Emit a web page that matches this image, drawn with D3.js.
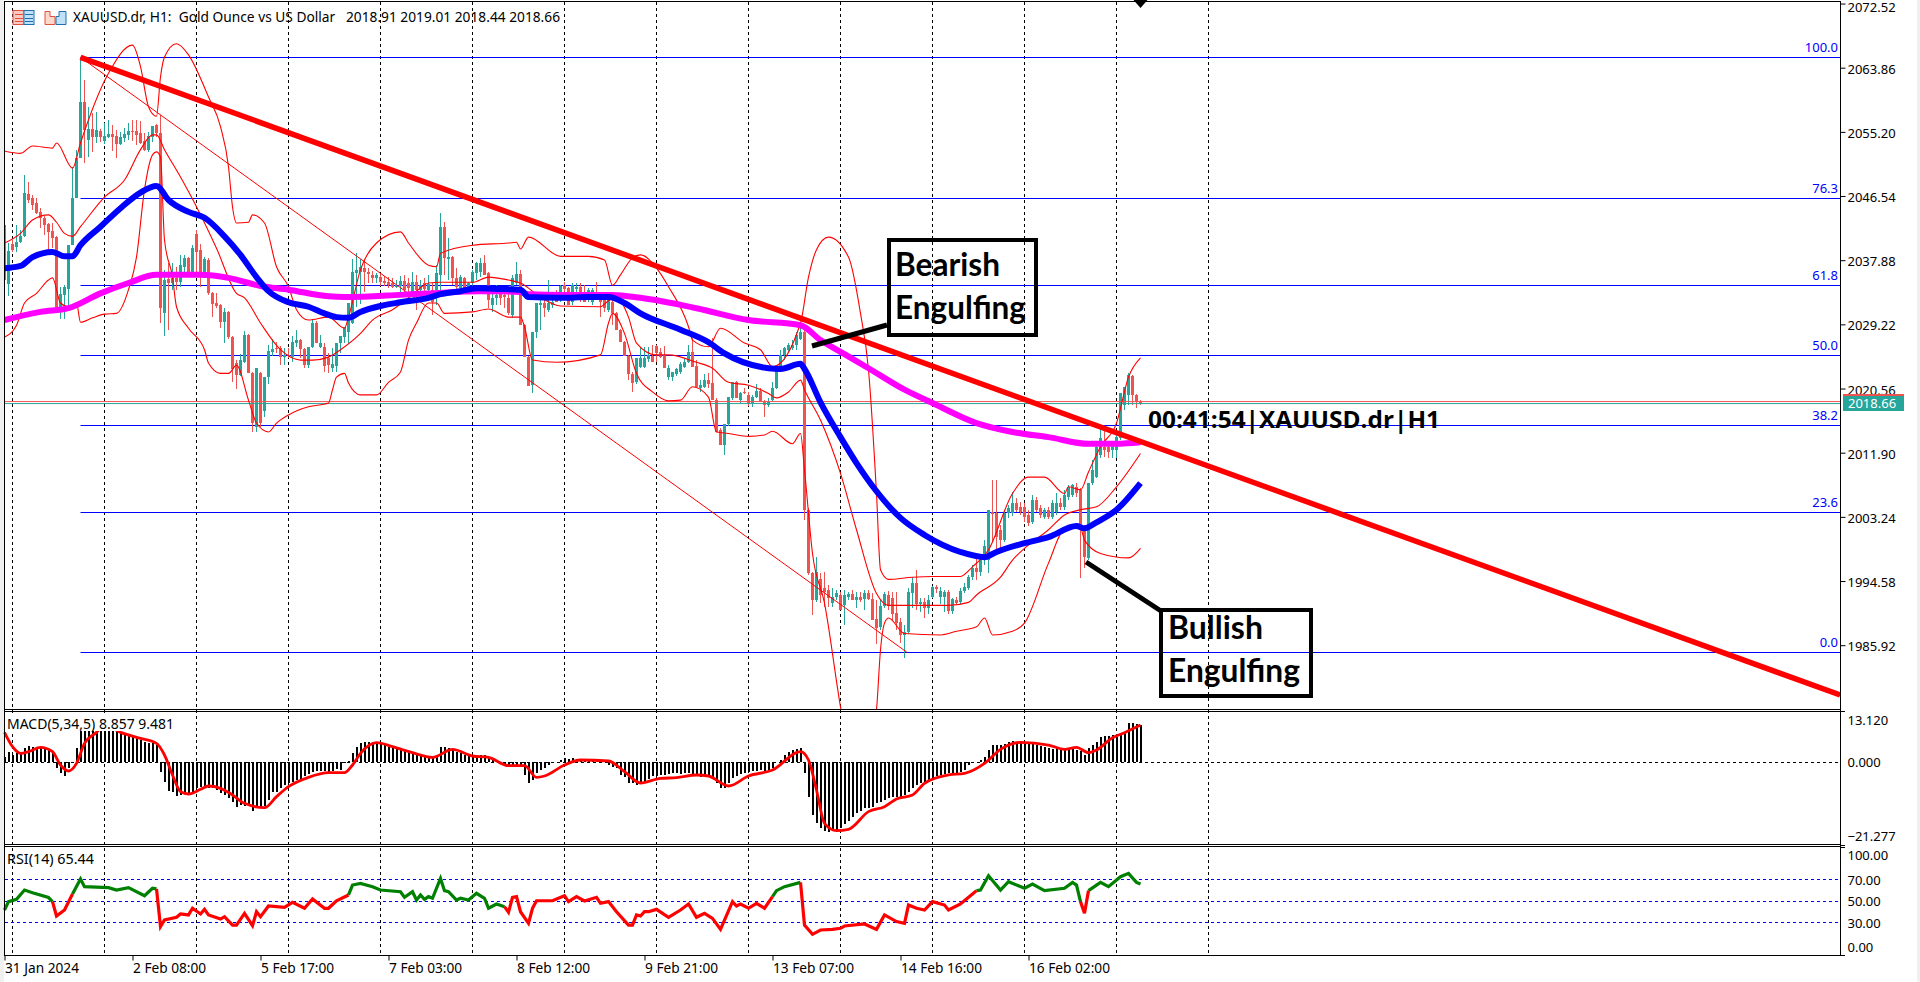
<!DOCTYPE html>
<html><head><meta charset="utf-8"><title>XAUUSD.dr H1</title>
<script src="https://cdnjs.cloudflare.com/ajax/libs/d3/7.9.0/d3.min.js"></script>
<style>
html,body{margin:0;padding:0;background:#fff;overflow:hidden}
svg{display:block}
text{font-family:"Noto Sans",sans-serif;font-size:13px;fill:#000;white-space:pre}
.axis path{display:none}
.axis line{stroke:#000}
</style></head><body><svg id="c" width="1920" height="982"></svg>
<script>
const instrumentTitle="XAUUSD.dr, H1:  Gold Ounce vs US Dollar   2018.91 2019.01 2018.44 2018.66";
const macdTitle="MACD(5,34,5) 8.857 9.481";
const rsiTitle="RSI(14) 65.44";
const timerText="00:41:54|XAUUSD.dr|H1";
const bidLabel="2018.66";
const bidLine=2018.53, askLine=2018.80;

const priceTicks=[2072.52,2063.86,2055.20,2046.54,2037.88,2029.22,2020.56,2011.90,2003.24,1994.58,1985.92];
const macdTicks=[13.12,0,-21.277];
const rsiTicks=[100,70,50,30,0];
const rsiLevels=[70,50,30];
const timeTickBars=[0,32,64,96,128,160,192,224,256];
const timeTickLabels=["31 Jan 2024","2 Feb 08:00","5 Feb 17:00","7 Feb 03:00","8 Feb 12:00","9 Feb 21:00","13 Feb 07:00","14 Feb 16:00","16 Feb 02:00"];
const gridBars=[2,25,48,71,94,117,140,163,186,209,232,255,278,301];

const fibLabels=["100.0","76.3","61.8","50.0","38.2","23.6","0.0"];
const fibPrices=[2065.26,2046.24,2034.50,2025.05,2015.60,2003.86,1984.97];
const fibStartBar=19, fibEndBar=225.6;
const trendBars=[19,458.9];
const trendPrices=[2065.26,1979.2];

// [open, high, low, close]
const ohlcA=[[2042.6,2044.6,2034.5,2035.2],[2034.7,2040.2,2033,2039.1],[2040.1,2040.6,2039,2039.3],[2039.7,2042.6,2039,2040.3],[2040.3,2042,2040.2,2041.1],[2041.1,2049.4,2041,2046.9],[2046.8,2048.4,2045.6,2046],[2046.3,2046.7,2044.7,2045.3],[2045.6,2046.3,2044.1,2044.2],[2044.4,2044.9,2042.2,2043.6],
[2043.6,2043.8,2041.3,2042.6],[2042.8,2042.9,2039.3,2041.7],[2041.8,2042.9,2039.5,2040.9],[2041,2041.1,2031.4,2031.6],[2031.6,2034.3,2029.9,2033.3],[2033.2,2034.5,2029.9,2034.3],[2034,2039.9,2031.6,2039.9],[2039.9,2050.5,2039.9,2046.3],[2046.3,2052.8,2046.3,2051.7],[2051.7,2065.2,2051.7,2059.2],
[2059.2,2062.2,2051,2055.5],[2054.1,2058.6,2051.8,2055.6],[2055.6,2057.7,2052.5,2054.5],[2054.5,2057.9,2053.7,2055.5],[2055.3,2055.6,2053.8,2054.5],[2054,2056.4,2053.6,2054.6],[2054.5,2056.8,2054.4,2054.9],[2054.9,2056.1,2052.6,2054.5],[2054.6,2055.5,2051.7,2053.6],[2053.6,2055.2,2053.4,2054.5],
[2054.4,2055.7,2053.8,2054.9],[2054.8,2056.4,2054.1,2055.3],[2055.3,2056.8,2054,2055.2],[2055.3,2056.8,2053.4,2054.8],[2055,2056.7,2053.6,2053.7],[2054,2055,2052.6,2052.8],[2052.8,2055.2,2052.5,2054.6],[2054.5,2056,2053.8,2056],[2056.1,2056.3,2054.5,2055],[2055,2057.5,2029.4,2031.4],
[2030.7,2036.6,2027.6,2035.2],[2035.3,2037.5,2028.5,2034.8],[2034.8,2037.5,2033.9,2035.5],[2035.5,2037,2033.9,2034.9],[2034.9,2038.6,2034.3,2037.2],[2037,2038.6,2036.3,2038.2],[2038.2,2038.3,2035.9,2036.1],[2036.1,2039.9,2035.9,2039.5],[2041.4,2042,2035.6,2039],[2039.3,2040.1,2034.3,2036.3],
[2035.5,2038.3,2035.5,2038],[2037.9,2038.2,2033.2,2033.4],[2033.4,2033.6,2030.2,2032],[2032.1,2033.4,2031.4,2031.7],[2031.8,2032,2028.7,2029.5],[2029.5,2031.4,2026.7,2030.9],[2030.9,2031,2027.2,2027.5],[2027.5,2027.6,2021.4,2023.2],[2024,2024.4,2020.5,2022.4],[2022.4,2025.2,2022.2,2024.4],
[2024.1,2028.3,2024,2027.8],[2027.8,2027.9,2022.6,2022.6],[2022.6,2022.8,2014.7,2015.9],[2015.4,2023.3,2014.7,2023.3],[2022.6,2022.8,2015.4,2015.9],[2017.5,2022.1,2016.7,2022.1],[2022.1,2026.4,2021.2,2025.6],[2025.5,2027.2,2024.9,2025.9],[2026,2026.8,2025.3,2025.9],[2026,2026.3,2023.7,2024.8],
[2024.8,2026,2023.7,2025.1],[2025.1,2026,2024.7,2024.9],[2024.8,2027.6,2024.1,2026.8],[2026.7,2028.5,2026.2,2027.1],[2027.1,2027.2,2024.7,2025.9],[2025.9,2026,2023.3,2023.7],[2023.7,2026.2,2023.3,2026.2],[2026.2,2029.8,2026,2029.4],[2029.4,2029.7,2026.7,2026.7],[2026.2,2027.8,2026,2026.7],
[2026.2,2026.7,2022.8,2023.6],[2024.7,2025.3,2022.6,2023.7],[2023.3,2026,2022.8,2023.9],[2023.6,2026.7,2022.8,2026.7],[2026.7,2027.6,2025.3,2027.6],[2027.5,2028.9,2026.7,2028.9],[2028.2,2032.1,2026.7,2032.1],[2029.4,2038,2029.3,2036.3],[2036.1,2038.8,2031.6,2036.6],[2036.3,2038,2032,2037],
[2036.8,2038,2033.6,2036.3],[2036.3,2036.8,2034.8,2036],[2035.9,2036.4,2034.8,2035.5],[2035.5,2036.1,2034.8,2035.9],[2035.6,2036.1,2034.4,2034.9]];
const ohlcB=[[2035.1,2035.7,2034.4,2034.8],[2034.9,2035.6,2034.1,2034.5],[2034.8,2035.5,2034.1,2034.3],[2034.3,2035.2,2034.1,2034.5],[2034.4,2035.7,2033.2,2035.1],[2035.1,2035.9,2033.4,2033.9],[2034.8,2035.5,2032.8,2034.1],[2033.4,2036.3,2033,2034.9],[2034.9,2035.9,2031.2,2033.9],[2033.9,2035.2,2032.9,2034.5],
[2034.8,2035.5,2033.3,2034],[2033.9,2035.9,2033,2034.7],[2033.9,2034.8,2030.5,2032.2],[2033.9,2037.2,2031.8,2036.1],[2035.9,2044.2,2033.9,2042.4],[2042.4,2043,2035.9,2038.2],[2038,2040.9,2035.2,2038.3],[2038.3,2038.4,2034.5,2035.5],[2035.5,2036.8,2033.9,2034.3],[2034.1,2035.9,2033.9,2035.6],
[2035.5,2035.6,2033.9,2034.1],[2034.3,2034.9,2033.4,2034.8],[2034.8,2036.6,2034.1,2036.3],[2036.1,2037.6,2035.2,2037.5],[2036.3,2038.2,2035.6,2037.5],[2037.5,2038.6,2035.9,2035.9],[2036.1,2036.3,2031.4,2032.5],[2031.8,2033.9,2030.9,2032.8],[2032.8,2034.5,2031.8,2033.2],[2033.4,2034.1,2031.8,2032.8],
[2033.2,2033.9,2031.4,2032.9],[2032.8,2033.9,2030.5,2030.7],[2030.5,2035.9,2030.1,2035.5],[2034.8,2037.6,2034.5,2036],[2036,2036.6,2029.1,2029.1],[2029.1,2029.3,2024.8,2024.8],[2024.8,2024.9,2020.9,2020.9],[2021,2028.2,2019.9,2028.2],[2028.2,2032.1,2027.4,2032.1],[2031.8,2033.2,2028.5,2032.1],
[2032.1,2032.5,2030.2,2031.4],[2031.2,2035.2,2030.9,2032.1],[2031.8,2032.9,2031.4,2032.2],[2033.4,2033.9,2032.2,2032.2],[2032.5,2034.5,2032.2,2034.4],[2034.5,2034.9,2032.5,2034],[2034.1,2034.3,2031.8,2031.8],[2032.2,2034.8,2031.8,2034.5],[2034,2034.8,2033.6,2034.3],[2034.3,2034.8,2032.2,2033.4],
[2033.2,2034.5,2032.2,2032.2],[2033.2,2034.1,2032.2,2033.9],[2032.2,2034.1,2031.8,2033.9],[2033.6,2034.9,2032.9,2032.9],[2032.8,2033.6,2030.2,2032.2],[2032.5,2033.2,2030.9,2031.4],[2031.2,2032.8,2030.9,2032.5],[2032.2,2032.9,2029.1,2030.7],[2030.7,2030.9,2028.5,2028.5],[2028.5,2028.6,2026.8,2026.8],
[2026.8,2027,2024.9,2024.9],[2024.9,2025.1,2021.7,2022.5],[2022.5,2022.8,2020.1,2021.3],[2021.4,2024.7,2021.2,2024.7],[2023.5,2026.2,2023.3,2024.7],[2023.5,2026.2,2023.3,2024.7],[2024.5,2026.2,2024.1,2025.1],[2024.9,2026.4,2024.1,2024.1],[2026.3,2026.4,2024.1,2025.3],[2025.5,2026,2024.7,2024.8],
[2025.1,2026.3,2023.3,2023.3],[2022.1,2023.7,2021.7,2023.3],[2022.1,2022.8,2021.6,2022.8],[2022.5,2023.3,2022.2,2023.2],[2022.8,2024.1,2022.5,2023.9],[2023.5,2024.7,2023.3,2024.1],[2024.1,2026.4,2024,2025.5],[2025.5,2027.4,2023.5,2023.5],[2023.6,2024.4,2020.8,2020.8],[2020.6,2021.7,2020.1,2021],
[2020.8,2022.5,2020.6,2021.7],[2021.7,2022.6,2020.6,2021.2],[2021.3,2027.4,2019,2019],[2019,2019.3,2014.7,2014.7],[2015,2015.2,2012.9,2012.9],[2012.9,2015.8,2011.6,2015.8],[2015.8,2019.4,2015.5,2019.4],[2019.3,2021.4,2019,2021.4],[2021.4,2021.6,2019.3,2019.3],[2019,2020.1,2018.6,2020],
[2020.1,2020.6,2019.8,2020],[2019.7,2020.1,2018.2,2018.6],[2018.6,2019.7,2018.1,2019.4],[2019.4,2021.2,2019.3,2020.2],[2020.2,2020.6,2018.7,2018.7]];
const ohlcC=[[2018.7,2019,2016.7,2018.3],[2018.3,2019.3,2018.1,2018.7],[2019,2021.4,2018.7,2020.6],[2020.6,2023.7,2020.5,2023.5],[2023.5,2025.8,2023.3,2025.1],[2025.1,2026.2,2024.4,2026],[2025.8,2026.7,2025.3,2026.4],[2026,2027.1,2025.8,2026.4],[2026.4,2028.2,2025.8,2027.8],[2027.2,2028.9,2027.1,2028.2],
[2028.2,2029.1,2002.8,2004.2],[2004.2,2004.4,1995.4,1995.6],[1995.6,1995.8,1990,1992],[1992,1997.8,1991.7,1995.8],[1994.8,1995.6,1991.6,1992.7],[1993.6,1995.8,1991.1,1993.1],[1993.4,1994,1991.1,1992.3],[1991.6,1993.6,1991.1,1992.4],[1992.4,1993.4,1992,1993],[1992.7,1993.1,1990.7,1990.7],
[1991.3,1993.4,1988.6,1992.7],[1992.4,1993.1,1992,1992.8],[1992.8,1993.4,1992,1992],[1992,1993.1,1990.9,1992.4],[1992.4,1993.1,1991.7,1992],[1992.1,1993.4,1990.7,1992.9],[1992.9,1993.4,1992,1992.1],[1992.1,1992.9,1989.3,1989.3],[1989.4,1992,1986.1,1988.2],[1988.4,1992,1988,1991.2],
[1991.2,1993.1,1990.9,1992.8],[1992.7,1993.2,1990.7,1991.2],[1992.3,1993.1,1989.3,1990.1],[1990.2,1993.1,1988,1988.9],[1989,1989.6,1986.2,1987.3],[1987.3,1988.6,1984.2,1987.7],[1987.7,1993.6,1987.4,1993.1],[1993,1995.1,1990.9,1994.3],[1994.3,1996.1,1990.7,1991.5],[1991.5,1992.3,1990.4,1991.7],
[1991.7,1992.3,1989.6,1990.9],[1990.9,1992.7,1990.1,1992],[1992.4,1993.9,1992.3,1993.8],[1993.8,1994,1993,1993.5],[1992.4,1993.8,1991.5,1993.2],[1992.4,1993.4,1990.4,1993.1],[1993.1,1993.4,1990.1,1990.5],[1990.5,1992.3,1990.1,1992.1],[1992,1992.4,1991.3,1991.6],[1991.7,1993.6,1991.5,1993.2],
[1993.2,1994.3,1993,1993.8],[1993.6,1995.4,1993.4,1995.1],[1995.1,1996.7,1994.7,1996.3],[1996.3,1997.7,1994.7,1995.8],[1995.8,1998.1,1995.2,1997.4],[1997.4,2000.1,1996.7,1999.3],[1997.4,2004.2,1995.6,2004.2],[2003.9,2008.2,1999.8,2003.6],[2003.7,2008.2,1998.8,2000.5],[2001.5,2002.1,1999,2000.1],
[2000.1,2004.2,1999.8,2003.7],[2003.7,2004.8,2003.1,2004.4],[2003.7,2006.6,2003.3,2005.1],[2005.1,2005.8,2003.9,2004.2],[2004.6,2005.2,2003.5,2003.9],[2004.6,2005.1,2002.5,2003.2],[2003.5,2004.2,2002,2002.4],[2002.5,2006.2,2002.3,2005.5],[2005.5,2005.9,2003.9,2004.2],[2004.4,2004.8,2003.1,2003.5],
[2003.2,2004.4,2002.9,2004.2],[2004.2,2004.6,2002.9,2003.2],[2003.2,2005.5,2002.9,2005.1],[2003.9,2006.4,2003.5,2005.1],[2005.1,2005.8,2004.2,2004.6],[2004.6,2006.8,2004.2,2006.2],[2005.9,2007.5,2005.5,2007.3],[2006.2,2007.7,2005.9,2007.5],[2007.3,2007.8,2005.9,2006.4],[2006.9,2007.1,1995,2001.7],
[2001.7,2002.1,1996.3,1997.8],[1997.7,2007.8,1997.4,2007.8],[2007.8,2010.9,2007.5,2009.6],[2008.6,2013.2,2008.5,2012.7],[2011.6,2015.2,2011.2,2013.9],[2012.7,2015,2011.3,2012.3],[2012.7,2012.9,2011.2,2012],[2012.3,2013.2,2011.2,2013.2],[2012.3,2014.3,2011.2,2014],[2013.9,2019.9,2013.6,2019.9],
[2018.3,2020.8,2017.7,2020.8],[2019.7,2022.6,2018.3,2022.4],[2022.2,2022.4,2018.3,2019.7],[2019.7,2019.8,2017.9,2018.7],[2018.7,2019,2018.3,2018.66]];

// moving averages and bands as [bar, price] vertices
const emaBlue=[[0,2036.8],[4,2037.1],[7,2038.3],[12,2039],[15,2038.4],[17,2038.4],[19,2039.9],[24,2042.4],[29,2044.9],[34,2047],[38,2047.9],[41,2046],[46,2044.4],[50,2043.6],[55,2041.1],[59,2038.6],[63,2035.6],[66,2033.7],[71,2032.2],[76,2031.6],[80,2030.7],[83,2030.2],[86,2030.1],[89,2030.9],[94,2031.7],[99,2032.2],[106,2032.8],[109,2033.3],[114,2033.7],[118,2034.1],[124,2034],[129,2033.9],[131,2032.9],[139,2032.8],[146,2032.9],[151,2032.9],[155,2032.1],[159,2030.7],[169,2028.5],[176,2026.8],[180,2025.3],[191,2023.3],[194,2023.2],[199,2023.9],[200,2023.2],[204,2018.7],[209,2014],[213,2010.5],[218,2006.7],[224,2003.1],[230,2000.8],[239,1998.5],[245,1997.8],[248,1998.5],[255,1999.7],[261,2000.5],[268,2002],[270,2001.7],[273,2002.5],[278,2004.2],[284,2007.8]];
const emaMagenta=[[0,2029.8],[9,2030.9],[16,2031.4],[24,2033.4],[31,2034.8],[38,2035.9],[49,2035.9],[56,2035.5],[64,2034.4],[71,2033.9],[81,2033],[85,2032.9],[99,2033.2],[106,2033.4],[119,2033.7],[129,2033.6],[131,2033.3],[140,2033.2],[152,2033.2],[159,2032.8],[173,2031.4],[186,2029.8],[199,2029.1],[204,2027.1],[210,2025.2],[216,2023.3],[225,2020.4],[232,2018.6],[243,2015.9],[252,2014.7],[261,2014],[271,2013.1],[278,2013.1],[284,2013.3]];
const bandUpper=[[0,2052.6],[4,2052.3],[7,2053.3],[12,2053],[13,2053.7],[17,2050.3],[19,2053.7],[26,2063.1],[32,2066.9],[34,2064],[36,2058.6],[38,2057.3],[39,2062.6],[40,2065.3],[43,2067.1],[46,2065.6],[51,2059.9],[54,2055.9],[56,2050.5],[57,2045.1],[58,2042.9],[61,2043],[62,2044],[65,2042.9],[68,2037],[71,2034.3],[73,2031.2],[76,2029.8],[81,2030.2],[85,2028.7],[86,2030.2],[89,2036.6],[93,2040.2],[99,2041.7],[101,2040.2],[106,2037.2],[108,2037],[109,2038.8],[117,2039.9],[126,2040.2],[128,2040.3],[129,2039.4],[131,2041],[139,2038.4],[146,2038.4],[150,2037.9],[152,2034.5],[154,2035.9],[157,2038.2],[159,2038.6],[163,2036.8],[166,2034.3],[171,2028.9],[172,2027.1],[176,2026.2],[179,2028.7],[185,2026.7],[189,2025.8],[192,2023.5],[199,2029.4],[201,2035.6],[203,2039.3],[206,2041],[211,2038.3],[214,2030.7],[216,2023.1],[218,2006.4],[219,1996.1],[221,1994.8],[227,1995.1],[232,1995.2],[239,1995.2],[242,1996.5],[246,1998.8],[252,2006.4],[256,2008.6],[260,2008.6],[265,2006.4],[266,2007.3],[269,2006.9],[271,2009.3],[274,2012.7],[278,2015.9],[281,2022.1],[284,2024.7]];
const bandMiddle=[[0,2040.2],[4,2041.5],[7,2043.3],[11,2044],[13,2043],[15,2041.5],[17,2041.1],[19,2042.4],[25,2046.4],[30,2048.7],[34,2052.8],[37,2054.8],[38,2054.8],[40,2052.8],[44,2049.1],[48,2045.1],[53,2039.5],[58,2033.4],[60,2032.8],[64,2029.4],[69,2025.8],[74,2024.4],[77,2024.4],[81,2024.8],[84,2025.8],[89,2028],[92,2029.8],[97,2031.2],[102,2033.2],[106,2034.8],[109,2034.9],[117,2034.9],[121,2035.6],[126,2035.2],[129,2034.8],[134,2032.9],[139,2031.7],[149,2031.6],[151,2032.4],[153,2032.9],[156,2030.2],[158,2026.7],[163,2025.1],[166,2025.1],[173,2024.1],[177,2023.3],[181,2021.4],[186,2021],[191,2019.9],[193,2019.3],[196,2020.1],[199,2021.7],[200,2020.4],[204,2016.3],[209,2009.1],[213,2001.5],[218,1992.9],[221,1991.3],[225,1991.3],[236,1991.3],[241,1991.7],[243,1992.7],[249,1995.1],[252,1997.4],[255,1999],[261,2001.5],[265,2003.5],[269,2004.2],[273,2004.6],[278,2007.3],[284,2011.8]];
const bandLower=[[0,2027.5],[3,2029.1],[5,2032.1],[8,2033.4],[11,2035.2],[12,2035.5],[14,2032.1],[16,2031.6],[18,2032.1],[19,2029.5],[22,2030.1],[25,2030.6],[28,2030.7],[31,2033.9],[33,2038.3],[35,2047.4],[37,2052.1],[38,2052.5],[39,2051.8],[40,2040.6],[42,2035.6],[43,2031.6],[46,2028.7],[50,2025.8],[51,2024],[54,2022.6],[56,2022.6],[58,2023.7],[61,2019],[63,2015.9],[66,2014.7],[68,2015.9],[71,2017],[76,2018.1],[81,2018.6],[82,2020.4],[83,2022.1],[85,2022.6],[86,2021.3],[89,2019.7],[93,2019.7],[96,2021.4],[99,2022.8],[101,2027.1],[103,2029.4],[106,2032.1],[108,2032.1],[110,2030.7],[117,2030.9],[121,2031.3],[126,2030.2],[129,2030.2],[130,2028.9],[132,2024.4],[138,2024.1],[149,2025.1],[151,2029.4],[152,2030.7],[155,2028],[158,2022.6],[162,2020.1],[166,2018.9],[169,2019],[172,2020.8],[176,2019.4],[178,2014.7],[181,2014.5],[186,2014.1],[190,2014.3],[192,2014.8],[197,2013.1],[199,2014.5],[200,2009.6],[202,1998.3],[205,1991.6],[209,1977.6],[212,1969],[215,1969],[218,1977.2],[219,1985.3],[220,1988.9],[221,1989.6],[225,1987.5],[234,1987.3],[238,1987.8],[243,1988.4],[245,1989.6],[247,1987.3],[252,1987.8],[255,1988.9],[261,1997],[265,2001.5],[269,2001.7],[270,2000.1],[274,1998.3],[281,1997.7],[284,1999]];

const macdHist=[1.6,3.1,2.1,2.8,3.1,4.1,4.8,4.4,4.6,4.6,4.1,3.6,2.6,-1.9,-3.2,-4.2,-1.9,-0.4,4.1,10.1,11.6,11.6,11.6,10.6,10.1,10.1,10.1,9.6,9.6,9.1,8.6,8.1,7.6,7.1,6.6,6.1,5.8,5.6,5.1,-2.9,-5.9,-8.6,-8.9,-10.2,-9.9,-9.4,-9.2,-8.9,-7.9,-7.6,-7.6,-7.9,-7.9,-8.4,-9.4,-9.9,-10.9,-11.9,-13.4,-12.9,-13.2,-13.2,-14.6,-13.9,-13.6,-13.2,-11.4,-8.9,-8.9,-7.9,-6.9,-6.4,-5.9,-5.4,-5.1,-4.2,-3.6,-2.9,-2.6,-2.6,-2.6,-2.9,-2.6,-2.2,-2.4,-0.4,0.3,2.6,4.4,5.6,5.9,5.9,5.6,5.4,5.4,5.1,4.4,4.1,4.1,3.6,3.4,3.1,2.8,2.6,2.1,1.6,1.4,1.4,2.1,4.6,4.6,4.1,3.6,3.1,2.6,2.1,2.1,2.1,1.6,2.1,2.1,1.1,1.1,0.6,0.1,-0.9,-1.4,-0.9,-0.9,-0.9,-3.9,-6.4,-5.4,-3.4,-2.4,-1.9,-0.9,-0.4,0.1,0.6,1.1,0.8,1.1,0.8,0.6,0.6,0.4,0.6,0.6,0.4,0.4,-0.9,-1.4,-1.9,-3.9,-4.4,-6.4,-6.4,-6.9,-5.9,-5.9,-5.2,-4.2,-4.2,-3.9,-3.9,-3.6,-3.4,-3.4,-3.6,-3.4,-3.2,-3.6,-4.2,-4.4,-4.2,-4.4,-4.9,-6.4,-7.9,-7.9,-6.4,-4.9,-4.2,-3.6,-3.4,-2.9,-2.6,-2.6,-2.4,-2.6,-2.4,-1.9,0.1,0.6,2.1,3.1,3.6,3.8,4.1,-3.2,-10.4,-15.9,-18.4,-19.9,-20.7,-20.9,-20.6,-20.4,-19.9,-18.6,-17.6,-16.4,-15.4,-14.6,-13.9,-13.9,-13.4,-12.4,-11.9,-11.4,-10.9,-10.6,-10.6,-10.6,-9.9,-8.9,-7.9,-6.9,-6.4,-5.9,-5.4,-4.9,-4.2,-3.9,-3.6,-3.4,-3.4,-3.2,-2.9,-2.4,-0.9,-0.2,0.1,0.6,1.6,3.6,5.1,5.1,5.1,5.4,6.1,6.3,6.1,5.8,5.8,5.6,5.4,5.1,4.8,4.6,4.1,3.8,4.1,3.8,4.1,4.1,4.1,3.6,3.4,2.1,4.1,5.1,6.1,7.4,7.8,7.8,8.1,7.6,8.6,9.1,11.6,11.6,11.4,11];
const macdSignal=[[0,8.9],[2,4.6],[4,2.6],[6,3.1],[9,4.4],[12,3.1],[14,-0.9],[16,-2.7],[18,-0.4],[20,5.6],[23,8.9],[24,10],[26,10.5],[29,8.9],[34,7.1],[38,5.6],[40,2.1],[42,-3.9],[44,-8.9],[46,-9.6],[49,-8.2],[51,-7.2],[54,-7.9],[57,-9.9],[60,-12.4],[65,-13.7],[68,-10.4],[71,-7.4],[76,-4.6],[81,-3.2],[85,-3.2],[87,-0.9],[89,2.6],[93,5.8],[97,4.6],[102,2.8],[107,1.4],[112,3.8],[117,1.8],[121,1.4],[126,-1.1],[130,-1.1],[133,-4.6],[135,-4.2],[140,-0.9],[144,0.6],[151,0.3],[155,-2.9],[159,-6.3],[164,-4.9],[168,-4.7],[173,-3.9],[176,-4.2],[181,-7.2],[186,-4.2],[192,-2.4],[199,3.1],[201,0.6],[203,-8.4],[205,-18.4],[208,-20.6],[211,-20.2],[216,-14.9],[220,-13.4],[223,-11.1],[227,-9.9],[230,-6.4],[236,-3.9],[240,-3.4],[245,-0.4],[249,3.8],[254,5.9],[261,5.1],[265,3.8],[268,4.4],[271,2.8],[273,3.6],[277,7.3],[280,8.8],[284,11.1]];

// RSI stretches: green and red parts of the line
const rsiGreen=[
 [[0,41.4],[1,49.2],[3,51.3],[5,60],[7,57.5],[11,53],[12,49.2]],
 [[17,56.3],[19,70.2],[20,63.1],[26,62.2],[28,60],[31,62.2],[35,54.7],[37,61.6],[38,61]],
 [[86,55.4],[87,64.6],[89,66.2],[92,63.1],[94,60],[99,58.4],[100,53.2],[102,58.4],[103,50.7],[104,55.4],[105,51.3],[106,53.8],[107,52.3],[109,70.8],[110,59.4],[111,58.4],[113,50.7],[114,52.3],[116,50.7],[118,56.9],[120,52.3],[121,43],[123,47],[125,44.5]],
 [[192,53.8],[193,59.4],[195,63.1],[199,67.1]],
 [[243,59.4],[244,60],[246,73.3],[249,60],[251,67.7],[255,61.6],[257,65.6],[260,59.4],[265,61.6],[267,67.1],[268,64.6],[269,49.2]],
 [[271,59.4],[274,67.1],[276,63.1],[279,72.4],[281,75.5],[283,67.1],[284,65.6]]
];
const rsiRed=[
 [[12,49.2],[13,35.8],[15,41.4],[17,56.3]],
 [[38,61],[39,25.9],[40,32.1],[43,34.6],[44,37.7],[46,36.8],[47,43],[49,37.7],[50,42],[51,36.8],[54,33],[55,35.2],[57,27.4],[58,27.4],[60,38.3],[62,26.8],[63,39.8],[64,35.2],[66,45.1],[70,43.9],[72,48.5],[75,43],[77,51.6],[80,43],[81,43],[83,50],[86,55.4]],
 [[125,44.5],[126,39.2],[127,53.2],[128,53.8],[129,39.8],[131,29],[132,43],[133,50],[137,50],[140,54.7],[141,49.2],[143,53.8],[145,49.8],[148,53.2],[149,47.6],[151,49.2],[153,39.8],[156,27.4],[157,27.4],[158,36.8],[159,35.8],[160,39.8],[161,39.8],[163,42],[166,34.6],[169,41.4],[171,47],[173,34.6],[175,38.3],[177,33.6],[179,23.4],[182,49.2],[183,45.1],[184,47],[186,43],[188,47.6],[190,43],[192,53.8]],
 [[199,67.1],[200,27.4],[202,18.8],[204,22.8],[207,23.4],[209,24.4],[210,26.5],[215,28.4],[218,23.4],[220,36.8],[223,30.6],[225,29],[226,46],[228,43],[230,41.4],[232,49.2],[235,46],[236,41.4],[239,47],[242,56.3],[243,59.4]],
 [[269,49.2],[270,38.3],[271,59.4]]
];

const annotations=[
 {lines:["Bearish","Engulfing"],widths:[105,131],box:[887,238,1038,337],lead:[812,346,887,325],base:38,tx:8},
 {lines:["Bullish","Engulfing"],widths:[95,132],box:[1159,608,1313,698],lead:[1086,562,1161,611],base:31,tx:9}
];

const svg=d3.select("#c");
const R=1840;
const x=d3.scaleLinear().domain([0,459]).range([4.5,1840.5]);
const y=d3.scaleLinear().domain([2063.86,1985.92]).range([67.7,645.2]);
const yM=d3.scaleLinear().domain([0,-21.277]).range([762,832.9]);
const yR=d3.scaleLinear().domain([100,0]).range([847,954.5]);

const defs=svg.append("defs");
defs.append("clipPath").attr("id","mainClip").append("rect").attr("x",5).attr("y",2).attr("width",1835).attr("height",707);
const boxClip=defs.append("clipPath").attr("id","boxClip");
annotations.forEach(a=>boxClip.append("rect").attr("x",a.box[0]+4).attr("y",a.box[1]+4).attr("width",a.box[2]-a.box[0]-8).attr("height",a.box[3]-a.box[1]-8));

svg.append("rect").attr("width",1920).attr("height",982).attr("fill","#fff");
svg.append("rect").attr("width",4).attr("height",982).attr("fill","#f0f0f0");
svg.append("rect").attr("x",1917).attr("width",3).attr("height",982).attr("fill","#f0f0f0");

const drawGrid=g=>g.selectAll("line").data(gridBars).join("line")
 .attr("x1",d=>x(d)).attr("x2",d=>x(d)).attr("y1",2).attr("y2",955)
 .attr("stroke","#000").attr("stroke-dasharray","3,3").attr("stroke-width",1);
const drawFib=g=>g.selectAll("line").data(fibPrices).join("line")
 .attr("x1",x(fibStartBar)).attr("x2",R).attr("y1",d=>Math.round(y(d))+.5).attr("y2",d=>Math.round(y(d))+.5)
 .attr("stroke","#0000ff");

svg.append("g").call(drawGrid);

const main=svg.append("g").attr("clip-path","url(#mainClip)");
const lp=(sx,sy)=>d3.line().x(d=>sx(d[0])).y(d=>sy(d[1]));
const sm=(sx,sy)=>lp(sx,sy).curve(d3.curveMonotoneX);

main.append("g").call(drawFib);

// candles
const candles=[...ohlcA,...ohlcB,...ohlcC];
const cg=main.append("g");
const col=c=>c[3]>=c[0]?"#26a69a":"#ef5350";
cg.selectAll("rect.w").data(candles).join("rect").attr("class","w")
 .attr("x",(d,i)=>x(i)-.5).attr("width",1)
 .attr("y",d=>Math.round(y(d[1]))).attr("height",d=>Math.max(1,Math.round(y(d[2]))-Math.round(y(d[1]))))
 .attr("fill",col);
cg.selectAll("rect.b").data(candles).join("rect").attr("class","b")
 .attr("x",(d,i)=>x(i)-1.5).attr("width",3)
 .attr("y",d=>Math.round(y(Math.max(d[0],d[3])))).attr("height",d=>Math.max(1,Math.abs(Math.round(y(d[0]))-Math.round(y(d[3])))))
 .attr("fill",col);

// bid / ask
[[askLine,"#ef5350"],[bidLine,"#26a69a"]].forEach(([p,c])=>{
 main.append("line").attr("x1",5).attr("x2",R).attr("y1",y(p)).attr("y2",y(p)).attr("stroke",c).attr("stroke-width",1);
});

// bands
[bandUpper,bandMiddle,bandLower].forEach(b=>{
 main.append("path").attr("d",sm(x,y)(b)).attr("fill","none").attr("stroke","#ff0000").attr("stroke-width",1.1);
});
main.append("line").attr("x1",x(fibStartBar)).attr("y1",y(fibPrices[0])).attr("x2",x(fibEndBar)).attr("y2",y(fibPrices[6]))
 .attr("stroke","#ff0000").attr("stroke-width",1);

main.append("path").attr("d",sm(x,y)(emaMagenta)).attr("fill","none").attr("stroke","#ff00ff").attr("stroke-width",6);
main.append("path").attr("d",sm(x,y)(emaBlue)).attr("fill","none").attr("stroke","#0000ff").attr("stroke-width",6);
main.append("line").attr("x1",x(trendBars[0])).attr("y1",y(trendPrices[0])).attr("x2",x(trendBars[1])).attr("y2",y(trendPrices[1]))
 .attr("stroke","#ff0000").attr("stroke-width",5.5);

// annotations
annotations.forEach(a=>{
 const [x0,y0,x1,y1]=a.lead;
 svg.append("line").attr("x1",x0).attr("y1",y0).attr("x2",x1).attr("y2",y1).attr("stroke","#000").attr("stroke-width",5);
 const [bx0,by0,bx1,by1]=a.box;
 svg.append("rect").attr("x",bx0+2).attr("y",by0+2).attr("width",bx1-bx0-4).attr("height",by1-by0-4)
  .attr("fill","#fff").attr("stroke","#000").attr("stroke-width",4);
 a.lines.forEach((t,i)=>{
  svg.append("text").attr("x",bx0+a.tx).attr("y",by0+a.base+i*42.5)
   .attr("textLength",a.widths[i]).attr("lengthAdjust","spacingAndGlyphs").text(t)
   .style("font-family","Lato,sans-serif").style("font-size","33px").style("font-weight",700);
 });
});
// levels and grid show through the boxes
const through=svg.append("g").attr("clip-path","url(#boxClip)");
through.append("g").call(drawGrid);
through.append("g").call(drawFib);

// fib labels
svg.append("g").selectAll("text").data(fibPrices).join("text")
 .attr("x",1838).attr("y",d=>y(d)-10).attr("dy",".35em").attr("text-anchor","end")
 .style("fill","#0000ff").style("font-size","13px").text((d,i)=>fibLabels[i]);

// timer
svg.append("text").attr("x",1148).attr("y",428).attr("textLength",292).attr("lengthAdjust","spacingAndGlyphs").text(timerText)
 .style("font-family","'Open Sans',sans-serif").style("font-size","24px").style("font-weight",700);

// title + icons
svg.append("text").attr("x",73).attr("y",22).attr("textLength",487).attr("lengthAdjust","spacingAndGlyphs").text(instrumentTitle).style("font-size","13.5px");
svg.append("rect").attr("x",13).attr("y",10.5).attr("width",11).attr("height",14).attr("fill","#f9c9c0").attr("stroke","#e05040");
svg.append("rect").attr("x",24).attr("y",10.5).attr("width",10).attr("height",14).attr("fill","#bfe0f5").attr("stroke","#2070b0");
[14,18,21].forEach(v=>{
 svg.append("rect").attr("x",15).attr("y",v).attr("width",8).attr("height",1).attr("fill","#e05040");
 svg.append("rect").attr("x",25).attr("y",v).attr("width",8).attr("height",1).attr("fill","#2070b0");
});
svg.append("path").attr("d","M45 11.5h5v5h5v8h-10z").attr("fill","#fcd8cc").attr("stroke","#e05040");
svg.append("path").attr("d","M56 16.5h3v-5h7v13h-10z").attr("fill","#bfe0f5").attr("stroke","#2070b0");

// MACD
svg.append("g").selectAll("rect").data(macdHist).join("rect")
 .attr("x",(d,i)=>x(i)-.5).attr("width",2)
 .attr("y",d=>Math.round(Math.min(yM(d),yM(0)))).attr("height",d=>Math.round(Math.abs(yM(d)-yM(0)))).attr("fill","#000");
svg.append("line").attr("x1",5).attr("x2",R).attr("y1",yM(0)+.5).attr("y2",yM(0)+.5).attr("stroke","#000").attr("stroke-dasharray","3,3");
svg.append("path").attr("d",sm(x,yM)(macdSignal)).attr("fill","none").attr("stroke","#ff0000").attr("stroke-width",2.8);
svg.append("rect").attr("x",5).attr("y",713).attr("width",171).attr("height",18).attr("fill","#fff");
svg.append("text").attr("x",7).attr("y",729).attr("textLength",167).attr("lengthAdjust","spacingAndGlyphs").text(macdTitle).style("font-size","14px");

// RSI
svg.append("g").selectAll("line").data(rsiLevels).join("line")
 .attr("x1",5).attr("x2",R).attr("y1",d=>Math.round(yR(d))+.5).attr("y2",d=>Math.round(yR(d))+.5)
 .attr("stroke","#0000ff").attr("stroke-dasharray","3,3");
svg.append("text").attr("x",7).attr("y",864).attr("textLength",87).attr("lengthAdjust","spacingAndGlyphs").text(rsiTitle).style("font-size","13.5px");
rsiGreen.forEach(s=>svg.append("path").attr("d",lp(x,yR)(s)).attr("fill","none").attr("stroke","#008000").attr("stroke-width",3.2));
rsiRed.forEach(s=>svg.append("path").attr("d",lp(x,yR)(s)).attr("fill","none").attr("stroke","#ff0000").attr("stroke-width",3.2));

// frames
const hline=(yy,x0=4,x1=R)=>svg.append("rect").attr("x",x0).attr("y",yy).attr("width",x1-x0+1).attr("height",1).attr("fill","#000");
[1,709,711,844,846,955].forEach(v=>hline(v));
svg.append("rect").attr("x",4).attr("y",1).attr("width",1).attr("height",955).attr("fill","#000");
svg.append("rect").attr("x",R).attr("y",1).attr("width",1).attr("height",955).attr("fill","#000");

// axes
const ax=g=>g.attr("class","axis");
svg.append("g").call(ax).attr("transform",`translate(${R+.5},0)`)
 .call(d3.axisRight(y).tickValues(priceTicks).tickFormat(d3.format(".2f")).tickSize(5).tickPadding(2))
 .selectAll("text").attr("dy",d=>d===2072.52?"0.62em":"0.42em");
svg.append("g").call(ax).attr("transform",`translate(${R+.5},0)`)
 .call(d3.axisRight(yM).tickValues(macdTicks).tickFormat(d3.format(".3f")).tickSize(0).tickPadding(7))
 .selectAll("text").attr("dy",d=>d===0?".38em":d<0?"0.6em":"0.45em");
svg.append("g").call(ax).attr("transform",`translate(${R+.5},0)`)
 .call(d3.axisRight(yR).tickValues(rsiTicks).tickFormat(d3.format(".2f")).tickSize(0).tickPadding(7))
 .selectAll("text").attr("dy",d=>d===100?".95em":d===0?"-0.2em":".38em");
[711,845,847,955].forEach(v=>svg.append("rect").attr("x",R).attr("y",v).attr("width",5).attr("height",1).attr("fill","#000"));

const tg=svg.append("g").call(ax).attr("transform","translate(0,955.5)")
 .call(d3.axisBottom(x).tickValues(timeTickBars).tickFormat((d,i)=>timeTickLabels[i]).tickSize(5).tickPadding(2));
tg.selectAll("text").attr("text-anchor","start").attr("dy","0.75em").style("font-size","13.7px");

// price tag
svg.append("rect").attr("x",1843).attr("y",394).attr("width",61).attr("height",2).attr("fill","#ef5350");
svg.append("rect").attr("x",1843).attr("y",396).attr("width",61).attr("height",15).attr("fill","#26a69a");
svg.append("text").attr("x",1848).attr("y",408).text(bidLabel).style("fill","#fff").style("font-size","13px");

// current-bar marker
svg.append("path").attr("d",d3.line()([[x(284)-7,0],[x(284)+7,0],[x(284),8]])+"Z").attr("fill","#000");
</script></body></html>
